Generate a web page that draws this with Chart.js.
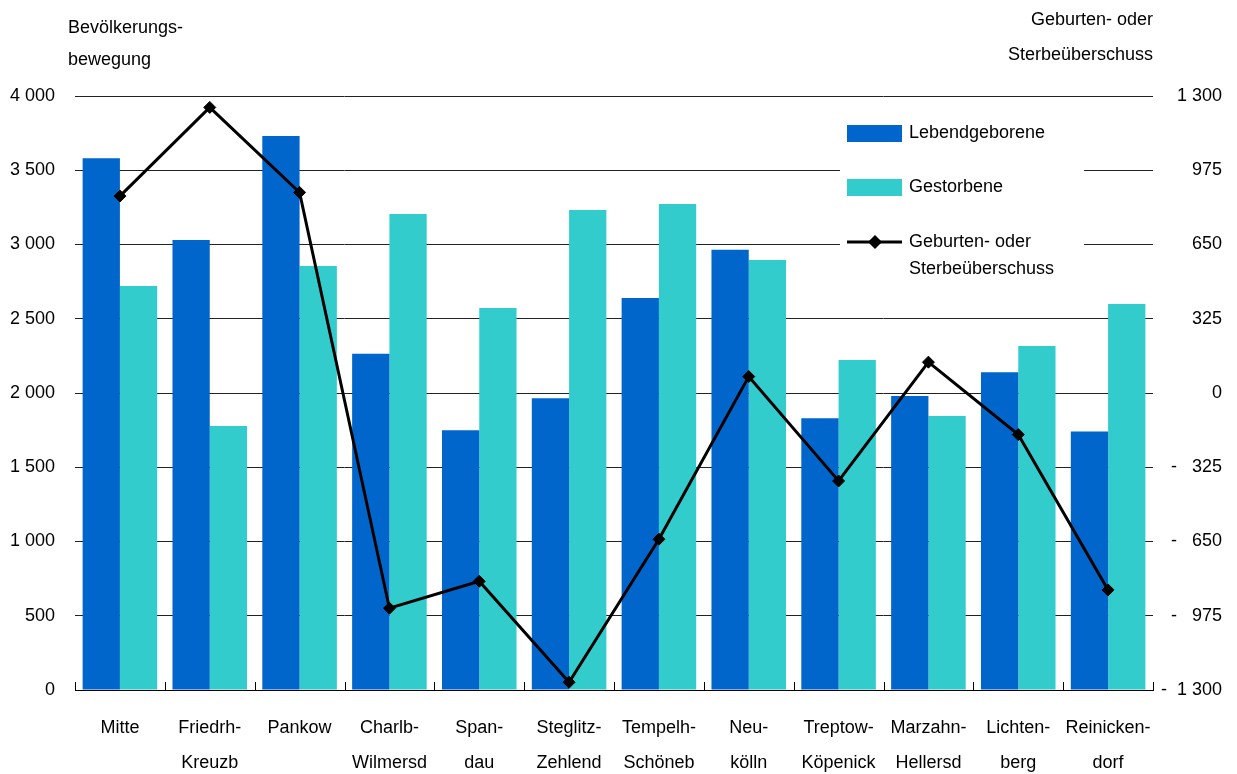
<!DOCTYPE html>
<html>
<head>
<meta charset="utf-8">
<script src="https://cdn.jsdelivr.net/npm/chart.js@4.4.1/dist/chart.umd.min.js"></script>
<style>
  html, body { margin: 0; padding: 0; background: #fff; }
  #wrap { width: 1237px; height: 774px; }
</style>
</head>
<body>
<div id="wrap"><canvas id="chart" width="1237" height="774"></canvas></div>
<script>
// -------------------- Daten --------------------
const bezirke = [
  ["Mitte"], ["Friedrh-", "Kreuzb"], ["Pankow"], ["Charlb-", "Wilmersd"],
  ["Span-", "dau"], ["Steglitz-", "Zehlend"], ["Tempelh-", "Schöneb"], ["Neu-", "kölln"],
  ["Treptow-", "Köpenick"], ["Marzahn-", "Hellersd"], ["Lichten-", "berg"], ["Reinicken-", "dorf"]
];
const lebendgeborene = [3580, 3030, 3730, 2265, 1750, 1965, 2640, 2965, 1830, 1980, 2140, 1740];
const gestorbene     = [2720, 1778, 2855, 3205, 2572, 3232, 3273, 2896, 2222, 1845, 2316, 2600];
const ueberschuss    = [862, 1250, 878, -942, -824, -1266, -640, 72, -385, 135, -182, -862];

const leftTicks = [0, 500, 1000, 1500, 2000, 2500, 3000, 3500, 4000];
const rightTicks = [-1300, -975, -650, -325, 0, 325, 650, 975, 1300];

const FONT = "'Liberation Sans', Arial, sans-serif";

function fmt(n) {
  return String(n).replace(/\B(?=(\d{3})+(?!\d))/g, " ");
}

// -------------------- Plugin: Titel, Legende, Teilstriche --------------------
const extras = {
  id: "extras",
  beforeDatasetsDraw(chart) {
    const ctx = chart.ctx;
    // weisser Hintergrund der Legende (unterbricht Gitterlinien)
    ctx.save();
    ctx.fillStyle = "#fff";
    ctx.fillRect(840, 110, 244, 176);
    ctx.restore();
  },
  afterDraw(chart) {
    const ctx = chart.ctx;
    const area = chart.chartArea;
    ctx.save();
    ctx.font = "18px " + FONT;
    ctx.fillStyle = "#000";
    ctx.textBaseline = "middle";

    // Achsentitel links
    ctx.textAlign = "left";
    ctx.fillText("Bevölkerungs-", 68, 28);
    ctx.fillText("bewegung", 68, 60);
    // Achsentitel rechts
    ctx.textAlign = "right";
    ctx.fillText("Geburten- oder", 1153, 20);
    ctx.fillText("Sterbeüberschuss", 1153, 55);

    // kleine Teilstriche an der x-Achse (nach oben)
    const n = chart.data.labels.length;
    const w = (area.right - area.left) / n;
    ctx.strokeStyle = "#000";
    ctx.lineWidth = 1;
    ctx.beginPath();
    for (let i = 0; i <= n; i++) {
      const x = Math.round(area.left + i * w) + 0.5;
      ctx.moveTo(x, area.bottom);
      ctx.lineTo(x, area.bottom - 8);
    }
    ctx.stroke();

    // Legende
    const ds = chart.data.datasets;
    ctx.textAlign = "left";
    const items = [
      { d: ds[1], y: 133 },
      { d: ds[2], y: 187 },
      { d: ds[0], y: 242 }
    ];
    items.forEach(it => {
      if (it.d.type === "line") {
        ctx.strokeStyle = it.d.borderColor;
        ctx.lineWidth = 3;
        ctx.beginPath();
        ctx.moveTo(847, it.y);
        ctx.lineTo(902, it.y);
        ctx.stroke();
        ctx.fillStyle = it.d.borderColor;
        ctx.beginPath();
        ctx.moveTo(875, it.y - 7);
        ctx.lineTo(882, it.y);
        ctx.lineTo(875, it.y + 7);
        ctx.lineTo(868, it.y);
        ctx.closePath();
        ctx.fill();
        ctx.fillStyle = "#000";
        const parts = it.d.label.split("\n");
        parts.forEach((p, i) => ctx.fillText(p, 909, it.y + i * 27));
      } else {
        ctx.fillStyle = it.d.backgroundColor;
        ctx.fillRect(847, it.y - 8, 55, 17);
        ctx.fillStyle = "#000";
        ctx.fillText(it.d.label, 909, it.y);
      }
    });
    ctx.restore();
  }
};

// -------------------- Chart --------------------
const ctx = document.getElementById("chart");
new Chart(ctx, {
  data: {
    labels: bezirke,
    datasets: [
      {
        type: "line",
        label: "Geburten- oder\nSterbeüberschuss",
        data: ueberschuss,
        yAxisID: "y2",
        borderColor: "#000",
        backgroundColor: "#000",
        borderWidth: 3,
        pointStyle: "rectRot",
        pointRadius: 6,
        pointBorderWidth: 1,
        tension: 0,
        order: 0
      },
      {
        type: "bar",
        label: "Lebendgeborene",
        data: lebendgeborene,
        yAxisID: "y",
        backgroundColor: "#0066CC",
        categoryPercentage: 0.83,
        barPercentage: 1.0,
        order: 1
      },
      {
        type: "bar",
        label: "Gestorbene",
        data: gestorbene,
        yAxisID: "y",
        backgroundColor: "#33CCCC",
        categoryPercentage: 0.83,
        barPercentage: 1.0,
        order: 1
      }
    ]
  },
  options: {
    responsive: false,
    animation: false,
    layout: { padding: { top: 96, left: 0, right: 15, bottom: 0 } },
    plugins: {
      legend: { display: false },
      tooltip: { enabled: false }
    },
    scales: {
      x: {
        offset: true,
        grid: { display: false, drawTicks: false },
        border: { display: true, color: "#000", width: 1 },
        ticks: {
          color: "#000",
          padding: 20,
          maxRotation: 0,
          autoSkip: false,
          font: { family: FONT, size: 18, lineHeight: 1.95 }
        },
        afterFit(scale) { scale.height = 84; }
      },
      y: {
        position: "left",
        min: 0,
        max: 4000,
        afterBuildTicks(scale) { scale.ticks = leftTicks.map(v => ({ value: v })); },
        grid: { color: "#222", lineWidth: 1, drawTicks: false },
        border: { display: false },
        ticks: {
          color: "#000",
          padding: 20,
          font: { family: FONT, size: 18 },
          callback: v => fmt(v)
        },
        afterFit(scale) { scale.width = 75; }
      },
      y2: {
        position: "right",
        min: -1300,
        max: 1300,
        afterBuildTicks(scale) { scale.ticks = rightTicks.map(v => ({ value: v })); },
        grid: { display: false, drawTicks: false },
        border: { display: false },
        ticks: {
          color: "#000",
          crossAlign: "far",
          font: { family: FONT, size: 18 },
          callback: v => v < 0 ? (v > -1000 ? "-   " + fmt(-v) : "-  " + fmt(-v)) : fmt(v)
        },
        afterFit(scale) { scale.width = 69; }
      }
    }
  },
  plugins: [extras]
});
</script>
</body>
</html>
